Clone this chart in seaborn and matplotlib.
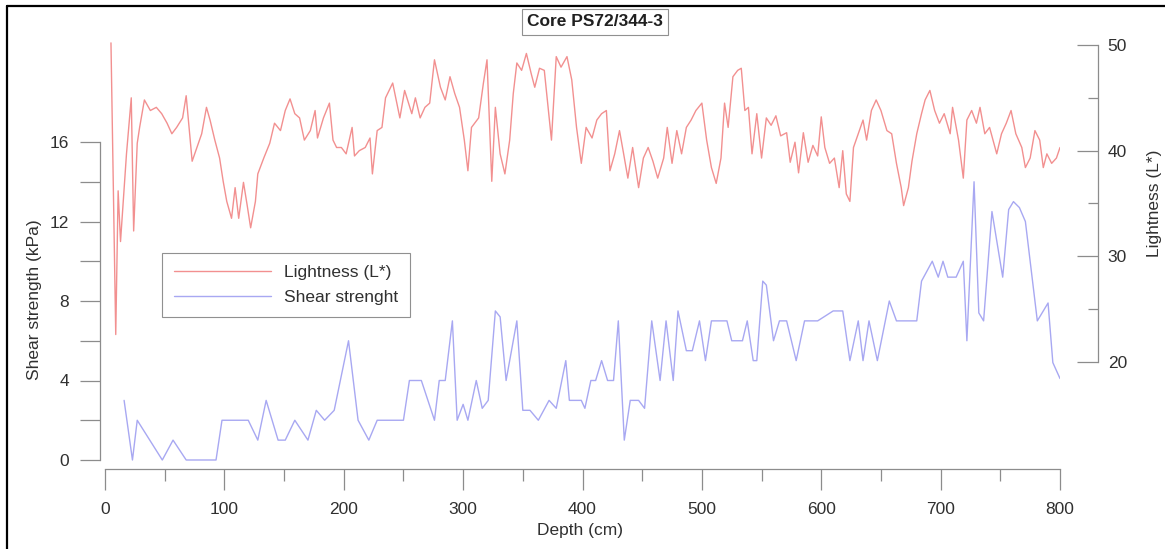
import matplotlib
matplotlib.use("Agg")
import matplotlib.pyplot as plt
from matplotlib.lines import Line2D
from matplotlib.ticker import FixedLocator
import seaborn as sns
import pandas as pd

# ---------------- data ----------------
shear_depth = [16, 23, 27, 48, 57, 68, 93, 98, 120, 128, 135, 145, 151, 159, 170, 177, 184, 192,
               204, 212, 221, 228, 250, 255, 265, 276, 280, 285, 291, 295, 300, 304, 311, 316, 321,
               327, 331, 336, 345, 350, 356, 363, 372, 378, 386, 389, 399, 402, 407, 411, 416, 421,
               426, 430, 435, 440, 447, 452, 458, 465, 470, 476, 480, 487, 492, 498, 503, 508, 521,
               525, 534, 538, 543, 546, 551, 554, 560, 565, 571, 579, 586, 597, 610, 618, 624, 631,
               635, 640, 647, 657, 663, 680, 684, 693, 698, 702, 706, 713, 719, 722, 728, 732, 736,
               743, 752, 757, 761, 766, 771, 781, 790, 794, 800]
shear_kpa = [3, 0, 2, 0, 1, 0, 0, 2, 2, 1, 3, 1, 1, 2, 1, 2.5, 2, 2.5,
             6, 2, 1, 2, 2, 4, 4, 2, 4, 4, 7, 2, 2.8, 2, 4, 2.6, 3,
             7.5, 7.2, 4, 7, 2.5, 2.5, 2, 3, 2.6, 5, 3, 3, 2.6, 4, 4, 5, 4,
             4, 7, 1, 3, 3, 2.6, 7, 4, 7, 4, 7.5, 5.5, 5.5, 7, 5, 7, 7,
             6, 6, 7, 5, 5, 9, 8.8, 6, 7, 7, 5, 7, 7, 7.5, 7.5, 5, 7,
             5, 7, 5, 8, 7, 7, 9, 10, 9.2, 10, 9.2, 9.2, 10, 6, 14, 7.4, 7,
             12.5, 9.2, 12.6, 13, 12.7, 12, 7, 7.9, 4.9, 4.1]

light_depth = [5, 9, 11, 13, 18, 22, 24, 27, 29, 33, 38, 43, 47.5, 52, 56, 60, 65, 68, 73, 77,
               81, 85, 88, 92, 96, 99, 102, 106, 109, 112, 116, 119, 122, 126, 128, 133, 138, 142,
               147, 151, 155, 159, 163, 167, 172, 176, 178, 183, 188, 191, 194, 198, 202, 207, 209,
               213, 218, 222, 224, 228, 232, 235, 241, 247, 251, 257, 260, 264, 268, 272, 276, 281,
               285, 289, 293, 297, 301, 304, 307, 313, 317, 320, 324, 327, 331, 335, 339, 342, 345,
               349, 353, 357, 360, 364, 368, 374, 378, 382, 387, 391, 395, 399, 403, 408, 412, 416,
               420, 423, 427, 431, 434, 438, 442, 447, 451, 455, 459, 463, 468, 471, 475, 479, 483,
               487, 491, 495, 500, 504, 508, 512, 516, 519, 522, 526, 530, 533, 536, 539, 542, 546,
               550, 554, 558, 562, 566, 571, 574, 578, 581, 585, 589, 593, 597, 600, 603, 607, 611,
               615, 618, 621, 624, 627, 631, 635, 638, 642, 646, 650, 655, 659, 663, 667, 669, 673,
               676, 680, 684, 687, 691, 695, 699, 703, 708, 710, 715, 719, 722, 726, 730, 733, 737,
               741, 747, 751, 755, 759, 763, 768, 771, 775, 779, 783, 786, 789, 793, 797, 800]
lightness = [50.2, 22.6, 36.2, 31.4, 39.7, 45.0, 32.4, 40.7, 42.2, 44.8, 43.8, 44.1, 43.5, 42.6, 41.6, 42.2, 43.1, 45.2, 39.0, 40.3,
             41.6, 44.1, 42.9, 41.0, 39.3, 37.1, 35.2, 33.6, 36.5, 33.6, 37.0, 34.9, 32.7, 35.2, 37.8, 39.3, 40.7, 42.6,
             41.9, 43.8, 44.9, 43.5, 43.1, 41.0, 41.9, 43.8, 41.2, 43.1, 44.5, 41.0, 40.3, 40.3, 39.7, 42.2, 39.5,
             40.0, 40.3, 41.2, 37.8, 41.9, 42.2, 45.0, 46.4, 43.1, 45.7, 43.5, 45.0, 43.1, 44.1, 44.5, 48.6, 46.0,
             44.8, 47.0, 45.4, 44.1, 41.0, 38.1, 42.2, 43.1, 46.4, 48.6, 37.1, 44.1, 39.7, 37.8, 41.0, 45.4, 48.3,
             47.6, 49.2, 47.3, 46.0, 47.8, 47.6, 41.0, 48.9, 47.9, 48.9, 46.7, 42.2, 38.8, 42.2, 41.2, 42.9, 43.5,
             43.8, 38.1, 39.7, 41.9, 40.0, 37.4, 40.3, 36.5, 39.3, 40.3, 39.0, 37.4, 39.3, 42.2, 38.8, 41.9, 39.7,
             42.2, 42.9, 43.8, 44.5, 41.0, 38.4, 36.9, 39.3, 44.5, 42.2, 47.0, 47.6, 47.8, 43.8, 44.1, 39.7, 43.5,
             39.3, 43.1, 42.4, 43.3, 41.4, 41.7, 38.9, 40.8, 37.9, 41.7, 38.9, 40.5, 39.5, 43.2, 40.3, 38.8, 39.3,
             36.5, 40.0, 35.9, 35.2, 40.3, 41.6, 42.9, 41.0, 43.8, 44.8, 43.8, 41.9, 41.6, 38.8, 36.5, 34.8, 36.5,
             39.0, 41.6, 43.5, 44.8, 45.7, 43.8, 42.6, 43.5, 41.6, 44.1, 41.0, 37.4, 42.9, 43.8, 42.6, 44.1, 41.6,
             42.2, 39.7, 41.6, 42.6, 43.8, 41.6, 40.3, 38.4, 39.3, 41.9, 41.0, 38.4, 39.7, 38.8, 39.3, 40.3]

x_major = [0, 100, 200, 300, 400, 500, 600, 700, 800]
x_minor = [50, 150, 250, 350, 450, 550, 650, 750]
shear_major = [0, 4, 8, 12, 16]
shear_minor = [2, 6, 10, 14]
light_major = [20, 30, 40, 50]
light_minor = [25, 35, 45]

title = "Core PS72/344-3"
xlabel = "Depth (cm)"
ylabel_left = "Shear strength (kPa)"
ylabel_right = "Lightness (L*)"
label_light = "Lightness (L*)"
label_shear = "Shear strenght"

RED = "#f29090"
BLUE = "#a8a8f2"
AXC = "#8c8c8c"
TXT = "#303030"
FS = 12.5

# ---------------- style ----------------
sns.set_theme(style="white")
plt.rcParams["font.family"] = ["Liberation Sans", "DejaVu Sans"]
plt.rcParams["font.size"] = FS

W, H = 1165, 549
fig = plt.figure(figsize=(W / 100, H / 100), dpi=100)
fig.patch.set_facecolor("white")

left_px, right_px = 105, 1060
top_px, bot_px = 40, 469
ax = fig.add_axes([left_px / W, 1 - bot_px / H, (right_px - left_px) / W, (bot_px - top_px) / H])
ax2 = ax.twinx()
ax.set_facecolor("none")

df_s = pd.DataFrame({"depth": shear_depth, "shear": shear_kpa})
df_l = pd.DataFrame({"depth": light_depth, "light": lightness})

sns.lineplot(data=df_s, x="depth", y="shear", ax=ax, color=BLUE, linewidth=1.0,
             estimator=None, sort=False)
sns.lineplot(data=df_l, x="depth", y="light", ax=ax2, color=RED, linewidth=1.0,
             estimator=None, sort=False)

ax.set_xlim(0, 800)
s_ppu = (460 - 142) / 16
ax.set_ylim(0 - (bot_px - 460) / s_ppu, (460 - top_px) / s_ppu)
l_ppu = (362 - 45) / 30
ax2.set_ylim(20 - (bot_px - 362) / l_ppu, 50 + (45 - top_px) / l_ppu)

for a in (ax, ax2):
    for s in a.spines.values():
        s.set_visible(False)
    a.grid(False)

ax.spines["bottom"].set_visible(True)
ax.spines["bottom"].set_color(AXC)
ax.spines["bottom"].set_linewidth(0.9)
ax.spines["bottom"].set_bounds(0, 800)
ax.spines["left"].set_visible(True)
ax.spines["left"].set_color(AXC)
ax.spines["left"].set_linewidth(0.9)
ax.spines["left"].set_position(("outward", 5 * 0.72))
ax.spines["left"].set_bounds(0, 16)
ax2.spines["right"].set_visible(True)
ax2.spines["right"].set_color(AXC)
ax2.spines["right"].set_linewidth(0.9)
ax2.spines["right"].set_position(("outward", 38 * 0.72))
ax2.spines["right"].set_bounds(20, 50)

ax.xaxis.set_major_locator(FixedLocator(x_major))
ax.xaxis.set_minor_locator(FixedLocator(x_minor))
ax.yaxis.set_major_locator(FixedLocator(shear_major))
ax.yaxis.set_minor_locator(FixedLocator(shear_minor))
ax2.yaxis.set_major_locator(FixedLocator(light_major))
ax2.yaxis.set_minor_locator(FixedLocator(light_minor))

ax.tick_params(axis="x", which="major", direction="out", length=15, width=0.9, color=AXC,
               labelsize=FS, labelcolor=TXT, pad=9, bottom=True)
ax.tick_params(axis="x", which="minor", direction="out", length=8.5, width=0.9, color=AXC, bottom=True)
ax.tick_params(axis="y", which="both", direction="out", length=14.4, width=0.9, color=AXC,
               labelsize=FS, labelcolor=TXT, pad=8, left=True)
ax2.tick_params(axis="y", which="major", direction="in", length=15, width=0.9, color=AXC,
                labelsize=FS, labelcolor=TXT, pad=7, right=True)
ax2.tick_params(axis="y", which="minor", direction="in", length=7, width=0.9, color=AXC, right=True)

ax.set_xlabel("")
ax.set_ylabel("")
ax2.set_ylabel("")

fig.text(580 / W, 1 - 530 / H, xlabel, ha="center", va="center", fontsize=FS, color=TXT)
fig.text(35 / W, 1 - 300 / H, ylabel_left, ha="center", va="center", rotation=90,
         fontsize=FS, color=TXT)
fig.text(1154 / W, 1 - 203 / H, ylabel_right, ha="center", va="center", rotation=90,
         fontsize=FS, color=TXT)

fig.text(595 / W, 1 - 22 / H, title, ha="center", va="center", fontsize=FS,
         fontweight="bold", color="#202020",
         bbox=dict(boxstyle="square,pad=0.32", fc="white", ec="#909090", lw=0.8))

handles = [Line2D([], [], color=RED, lw=1.0), Line2D([], [], color=BLUE, lw=1.0)]
leg = fig.legend(handles, [label_light, label_shear], loc="upper left",
                 bbox_to_anchor=(162 / W, 1 - 253 / H), borderaxespad=0,
                 frameon=True, fancybox=False, framealpha=1, edgecolor="#909090",
                 fontsize=FS, handlelength=5.6, handletextpad=0.7,
                 labelspacing=0.55, borderpad=0.7)
leg.get_frame().set_linewidth(0.8)
for t in leg.get_texts():
    t.set_color(TXT)

fig.add_artist(Line2D([7 / W, 1.0], [1 - 6 / H, 1 - 6 / H], transform=fig.transFigure,
                      color="black", lw=1.6))
fig.add_artist(Line2D([7 / W, 7 / W], [0, 1 - 6 / H], transform=fig.transFigure,
                      color="black", lw=1.6))

fig.savefig("out.png", dpi=100, facecolor="white")
